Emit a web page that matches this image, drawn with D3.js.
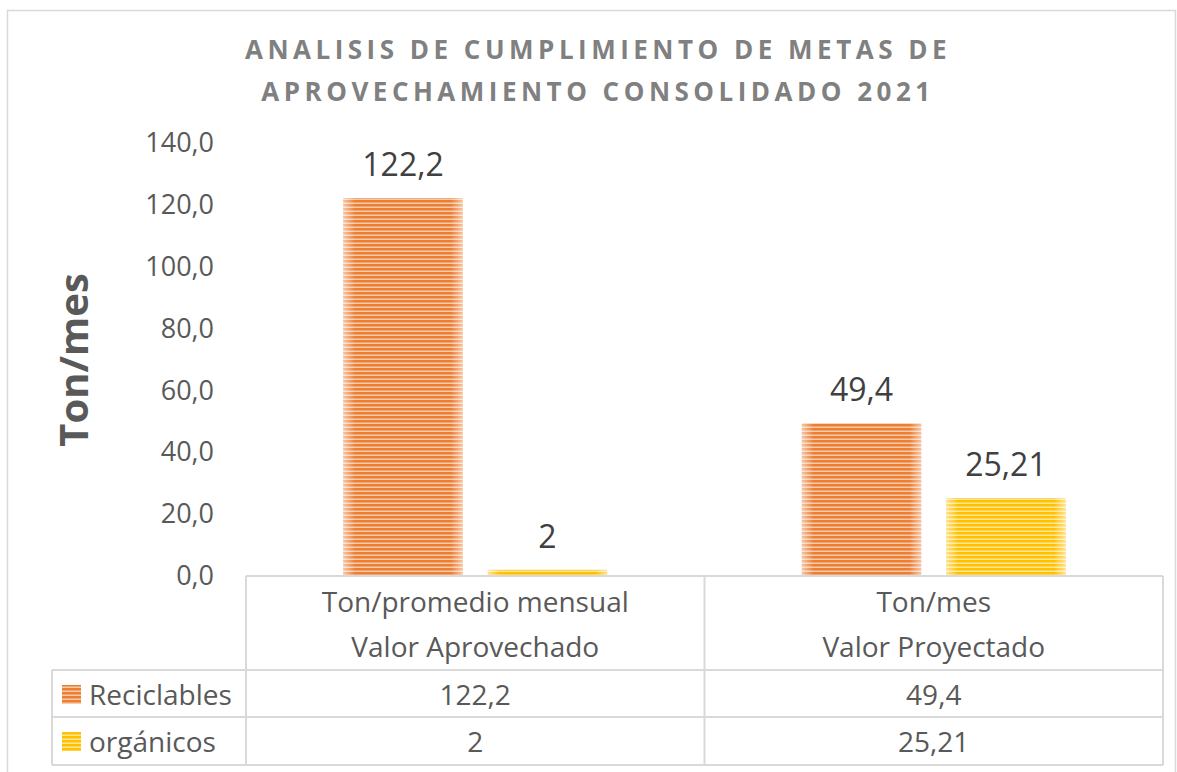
<!DOCTYPE html>
<html>
<head>
<meta charset="utf-8">
<script src="https://cdn.jsdelivr.net/npm/d3@7"></script>
<style>
  body { margin: 0; background: #fff; }
  svg text { font-family: "Open Sans", "Noto Sans", sans-serif; }
</style>
</head>
<body>
<svg id="chart"></svg>
<script>
(function() {
    'use strict';

    // data
    var categories = ['Valor Aprovechado', 'Valor Proyectado'];
    var categoryUnits = ['Ton/promedio mensual', 'Ton/mes'];
    var seriesNames = ['Reciclables', 'orgánicos'];
    var reciclables = [122.2, 49.4];
    var organicos = [2, 25.21];
    var yTicks = [0, 20, 40, 60, 80, 100, 120, 140];

    var titleLines = ['ANALISIS DE CUMPLIMIENTO DE METAS DE', 'APROVECHAMIENTO CONSOLIDADO 2021'];
    var yTitle = 'Ton/mes';

    var seriesValues = [reciclables, organicos];
    var colors = [
        { main: '#ED7D31', light: '#F8CBAD' },
        { main: '#FFC000', light: '#FFE699' }
    ];

    var width = 1177, height = 772;
    var left = 246, right = 1163, top = 143, bottom = 576;
    var textColor = '#595959';
    var lineColor = '#D9D9D9';

    var svg = d3.select('#chart')
        .attr('width', width)
        .attr('height', height);

    // stripe patterns
    var defs = svg.append('defs');
    colors.forEach(function(c, i) {
        var p = defs.append('pattern')
            .attr('id', 'stripe' + i)
            .attr('patternUnits', 'userSpaceOnUse')
            .attr('width', 8)
            .attr('height', 4);
        p.append('rect').attr('width', 8).attr('height', 4).attr('fill', c.light);
        p.append('rect').attr('width', 8).attr('height', 2.5).attr('fill', c.main);
    });
    var edge = defs.append('linearGradient').attr('id', 'edge');
    edge.append('stop').attr('offset', '0%').attr('stop-color', '#fff').attr('stop-opacity', 0.55);
    edge.append('stop').attr('offset', '10%').attr('stop-color', '#fff').attr('stop-opacity', 0);
    edge.append('stop').attr('offset', '90%').attr('stop-color', '#fff').attr('stop-opacity', 0);
    edge.append('stop').attr('offset', '100%').attr('stop-color', '#fff').attr('stop-opacity', 0.55);

    // outer frame
    svg.append('rect')
        .attr('x', 7.5).attr('y', 10.5)
        .attr('width', 1168).attr('height', 780)
        .attr('fill', 'none')
        .attr('stroke', lineColor)
        .attr('stroke-width', 1.5);

    // title
    svg.append('g').selectAll('text')
        .data(titleLines)
        .enter()
        .append('text')
        .attr('x', 598)
        .attr('y', function(d, i) { return 59 + i * 42; })
        .attr('text-anchor', 'middle')
        .attr('fill', '#808080')
        .attr('font-size', 26)
        .attr('font-weight', 'bold')
        .attr('letter-spacing', 4.5)
        .text(function(d) { return d; });

    var x0 = d3.scaleBand().domain(categories).range([left, right]);
    var x1 = d3.scaleBand().domain(seriesNames).range([0, x0.bandwidth()])
        .paddingInner(0.174).paddingOuter(0.674);
    var y = d3.scaleLinear().domain([0, 140]).range([bottom, top]);

    var fmt = d3.formatLocale({ decimal: ',', thousands: '.', grouping: [3], currency: ['', ''] });
    var tickFmt = fmt.format('.1f');

    // y axis labels
    var yAxis = svg.append('g')
        .attr('transform', 'translate(' + left + ',0)')
        .call(d3.axisLeft(y).tickValues(yTicks).tickFormat(tickFmt).tickSize(0).tickPadding(32));
    yAxis.select('.domain').remove();
    yAxis.selectAll('text')
        .attr('font-size', 27)
        .attr('fill', textColor)
        .attr('font-family', '"Open Sans", sans-serif');

    // y title
    svg.append('text')
        .attr('transform', 'translate(88,' + 360 + ') rotate(-90)')
        .attr('text-anchor', 'middle')
        .attr('font-size', 40)
        .attr('font-weight', 'bold')
        .attr('fill', textColor)
        .text(yTitle);

    // bars
    var groups = svg.selectAll('g.cat')
        .data(categories)
        .enter()
        .append('g')
        .attr('class', 'cat')
        .attr('transform', function(d) { return 'translate(' + x0(d) + ',0)'; });

    groups.each(function(cat, ci) {
        var g = d3.select(this);
        seriesNames.forEach(function(s, si) {
            var v = seriesValues[si][ci];
            var bx = x1(s), bw = x1.bandwidth();
            g.append('rect')
                .attr('x', bx)
                .attr('y', y(v))
                .attr('width', bw)
                .attr('height', bottom - y(v))
                .attr('fill', 'url(#stripe' + si + ')');
            g.append('rect')
                .attr('x', bx)
                .attr('y', y(v))
                .attr('width', bw)
                .attr('height', bottom - y(v))
                .attr('fill', 'url(#edge)');
            g.append('text')
                .attr('x', bx + bw / 2)
                .attr('y', y(v) - 22)
                .attr('text-anchor', 'middle')
                .attr('font-size', 32)
                .attr('fill', '#404040')
                .text(String(v).replace('.', ','));
        });
    });

    // data table
    var rowLines = [670, 717, 765];
    var table = svg.append('g')
        .attr('stroke', lineColor)
        .attr('stroke-width', 2)
        .attr('fill', 'none');
    table.append('line').attr('x1', left).attr('x2', right).attr('y1', bottom).attr('y2', bottom);
    rowLines.forEach(function(ry) {
        table.append('line').attr('x1', 52).attr('x2', right).attr('y1', ry).attr('y2', ry);
    });
    [left, x0(categories[1]), right].forEach(function(vx) {
        table.append('line').attr('x1', vx).attr('x2', vx).attr('y1', bottom).attr('y2', 765);
    });
    table.append('line').attr('x1', 52).attr('x2', 52).attr('y1', 670).attr('y2', 765);

    var cellText = function(tx, ty, str) {
        svg.append('text')
            .attr('x', tx)
            .attr('y', ty)
            .attr('text-anchor', 'middle')
            .attr('font-size', 28)
            .attr('fill', textColor)
            .attr('dominant-baseline', 'central')
            .text(str);
    };

    categories.forEach(function(c, ci) {
        var cx = x0(c) + x0.bandwidth() / 2;
        cellText(cx, 601, categoryUnits[ci]);
        cellText(cx, 646, c);
        seriesNames.forEach(function(s, si) {
            cellText(cx, 694 + si * 47, String(seriesValues[si][ci]).replace('.', ','));
        });
    });

    // legend keys in table
    seriesNames.forEach(function(s, si) {
        var ry = 694 + si * 47;
        svg.append('rect')
            .attr('x', 62).attr('y', ry - 9)
            .attr('width', 19).attr('height', 19)
            .attr('fill', 'url(#stripe' + si + ')');
        svg.append('text')
            .attr('x', 89)
            .attr('y', ry)
            .attr('font-size', 28)
            .attr('fill', textColor)
            .attr('dominant-baseline', 'central')
            .text(s);
    });
})();
</script>
</body>
</html>
